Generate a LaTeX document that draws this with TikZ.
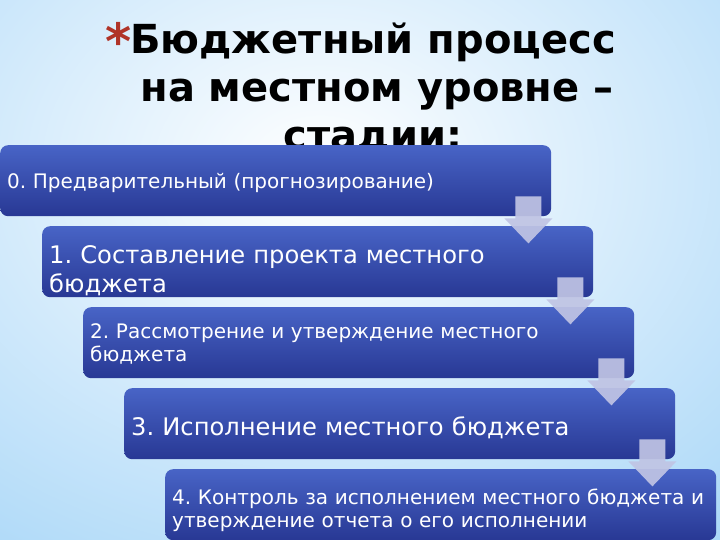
\documentclass[tikz,border=0pt]{standalone}
\usepackage{fontspec}
\setmainfont{DejaVu Sans}
\usetikzlibrary{calc}
\frenchspacing
\definecolor{bgblue}{RGB}{150,206,246}
\definecolor{boxtop}{RGB}{72,100,198}
\definecolor{boxbot}{RGB}{40,56,148}
\definecolor{arrcol}{RGB}{192,196,228}
\definecolor{starcol}{RGB}{176,52,40}
\tikzset{
  stagebox/.style={rectangle, rounded corners=8pt, anchor=north west,
    minimum width=551pt, minimum height=71pt, inner sep=0pt,
    top color=boxtop, bottom color=boxbot, draw=none},
  stagetext/.style={anchor=west, text width=537pt, inner xsep=7pt, inner ysep=0pt,
    align=left, text=white},
  smalltxt/.style={font=\fontsize{20}{23}\selectfont},
  bigtxt/.style={font=\fontsize{24.2}{29}\selectfont},
  titletxt/.style={font=\bfseries\fontsize{40}{48}\selectfont, anchor=base, inner sep=0pt},
  stagearrow/.style={fill=arrcol, fill opacity=0.92}
}
\begin{document}
\begin{tikzpicture}[x=1pt,y=-1pt]
\useasboundingbox (0,0) rectangle (720,540);
\begin{scope}
\clip (0,0) rectangle (720,540);
\shade[inner color=white, outer color=bgblue] (-460,-430) rectangle (1100,770);
\end{scope}
% title
\node[titletxt] (t1) at (373,54) {Бюджетный процесс};
\node[titletxt] (t2) at (377,102) {на местном уровне –};
\node[titletxt] (t3) at (373,150) {стадии:};
\node[anchor=base, inner sep=0pt, text=starcol, font=\bfseries\fontsize{50}{50}\selectfont] (star) at (119,60) {*};
% boxes
\node[stagebox] (b0) at (0,145) {};
\node[stagebox] (b1) at (42,226) {};
\node[stagebox] (b2) at (83,307) {};
\node[stagebox] (b3) at (124,388) {};
\node[stagebox] (b4) at (165,469) {};
\node[stagetext, smalltxt] (l0) at ($(b0.west)+(0,2)$) {0. Предварительный (прогнозирование)};
\node[stagetext, bigtxt] (l1) at ($(b1.west)+(0,9)$) {1. Составление проекта местного\\бюджета};
\node[stagetext, smalltxt] (l2) at ($(b2.west)+(0,1)$) {2. Рассмотрение и утверждение местного\\бюджета};
\node[stagetext, bigtxt] (l3) at ($(b3.west)+(0,4)$) {3. Исполнение местного бюджета};
\node[stagetext, smalltxt] (l4) at ($(b4.west)+(0,6)$) {4. Контроль за исполнением местного бюджета и\\утверждение отчета о его исполнении};
% arrows
\foreach \a in {b0,b1,b2,b3}{
  \fill[stagearrow] ($(\a.south east)+(-36,-20)$) -- ++(26,0) -- ++(0,22) -- ++(11,0)
    -- ++(-24,25) -- ++(-24,-25) -- ++(11,0) -- cycle;
}
\end{tikzpicture}
\end{document}
